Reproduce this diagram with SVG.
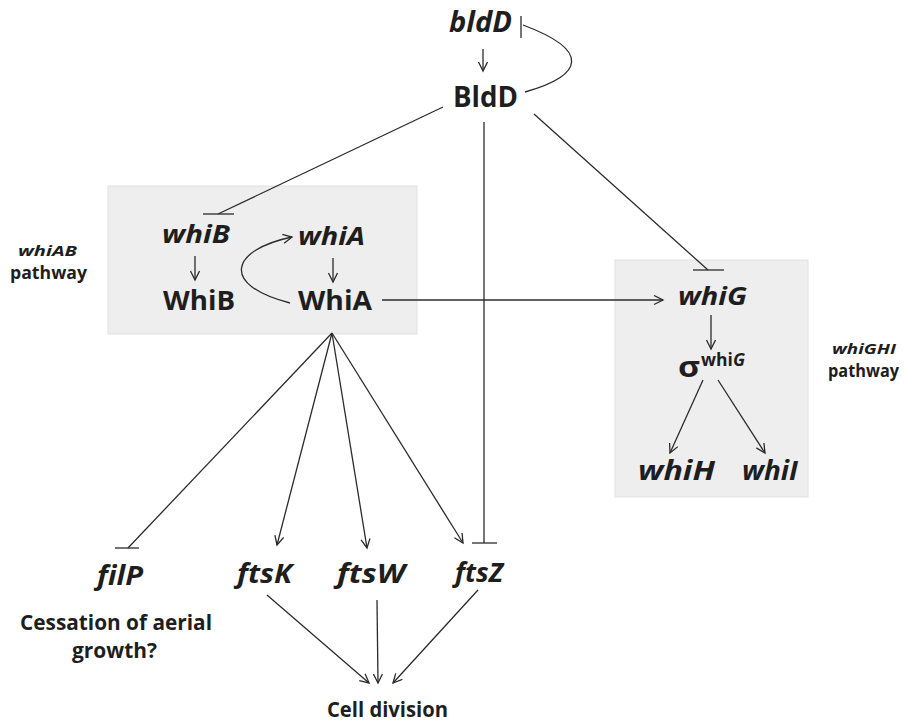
<svg xmlns="http://www.w3.org/2000/svg" width="904" height="725" viewBox="0 0 904 725">
  <defs>
    <marker id="arrow" markerUnits="userSpaceOnUse" markerWidth="14" markerHeight="14" refX="10" refY="5" orient="auto">
      <path d="M1,0.5 L10,5 L1,9.5" fill="none" stroke="#2b2b2b" stroke-width="1.3"/>
    </marker>
  </defs>
  <style>
    .box { fill: #eeeeee; stroke: #e2e2e2; stroke-width: 1; }
    .ln { fill: none; stroke: #2b2b2b; stroke-width: 1.3; }
    .arr { marker-end: url(#arrow); }
    text { font-family: "Open Sans", "Liberation Sans", sans-serif; font-weight: bold; fill: #1e1e1e; }
    .gene { font-style: italic; }
  </style>

  <rect width="904" height="725" fill="#ffffff"/>

  <!-- pathway panels -->
  <rect id="panel-whiAB" class="box" x="108" y="186" width="309" height="148"/>
  <rect id="panel-whiGHI" class="box" x="615" y="260" width="193" height="237"/>

  <g id="connectors">
    <!-- bldD autorepression loop -->
    <path class="ln" d="M523,25 C590,50 585,75 525,92"/>
    <line class="ln" x1="521" y1="16" x2="521" y2="38"/>
    <!-- bldD -> BldD -->
    <line class="ln arr" x1="483" y1="49" x2="483" y2="71"/>
    <!-- BldD -| whiB -->
    <line class="ln" x1="443" y1="107" x2="218" y2="214"/>
    <line class="ln" x1="203" y1="214" x2="234" y2="214"/>
    <!-- BldD -| ftsZ -->
    <line class="ln" x1="484" y1="122" x2="484" y2="543"/>
    <line class="ln" x1="472" y1="543" x2="497" y2="543"/>
    <!-- BldD -| whiG -->
    <line class="ln" x1="534" y1="114" x2="708" y2="270"/>
    <line class="ln" x1="693" y1="270" x2="724" y2="270"/>
    <!-- whiB -> WhiB, whiA -> WhiA -->
    <line class="ln arr" x1="195" y1="256" x2="195" y2="280"/>
    <line class="ln arr" x1="333" y1="258" x2="333" y2="282"/>
    <!-- WhiA autoactivation loop -->
    <path class="ln arr" d="M290,303 C220,285 230,250 292,237"/>
    <!-- WhiA -> whiG -->
    <line class="ln arr" x1="382" y1="300" x2="663" y2="300"/>
    <!-- whiG -> sigma, sigma -> whiH / whiI -->
    <line class="ln arr" x1="711" y1="315" x2="711" y2="349"/>
    <line class="ln arr" x1="703" y1="380" x2="670" y2="453"/>
    <line class="ln arr" x1="718" y1="380" x2="765" y2="453"/>
    <!-- WhiA targets -->
    <line class="ln" x1="332" y1="333" x2="128" y2="548"/>
    <line class="ln" x1="115" y1="548" x2="139" y2="548"/>
    <line class="ln arr" x1="332" y1="333" x2="277" y2="545"/>
    <line class="ln arr" x1="332" y1="333" x2="367" y2="548"/>
    <line class="ln arr" x1="332" y1="333" x2="463" y2="543"/>
    <!-- fts genes -> cell division -->
    <line class="ln arr" x1="267" y1="595" x2="369" y2="683"/>
    <line class="ln arr" x1="377" y1="600" x2="378" y2="683"/>
    <line class="ln arr" x1="478" y1="590" x2="393" y2="683"/>
  </g>

  <g id="bldD-gene"><text class="gene" x="449" y="32" font-size="29" textLength="63" lengthAdjust="spacingAndGlyphs">bldD</text></g>
  <g id="BldD"><text x="453" y="107" font-size="29" textLength="65" lengthAdjust="spacingAndGlyphs">BldD</text></g>

  <g id="whiAB-label">
    <text class="gene" x="18" y="256" font-size="15" textLength="59" lengthAdjust="spacingAndGlyphs">whiAB</text>
    <text x="10" y="279" font-size="17" textLength="77" lengthAdjust="spacingAndGlyphs">pathway</text>
  </g>
  <g id="whiB-gene"><text class="gene" x="162" y="243" font-size="25" textLength="68" lengthAdjust="spacingAndGlyphs">whiB</text></g>
  <g id="WhiB"><text x="163" y="310" font-size="26" textLength="72" lengthAdjust="spacingAndGlyphs">WhiB</text></g>
  <g id="whiA-gene"><text class="gene" x="298" y="245" font-size="25" textLength="67" lengthAdjust="spacingAndGlyphs">whiA</text></g>
  <g id="WhiA"><text x="298" y="310" font-size="26" textLength="74" lengthAdjust="spacingAndGlyphs">WhiA</text></g>

  <g id="whiGHI-label">
    <text class="gene" x="832" y="354" font-size="15" textLength="64" lengthAdjust="spacingAndGlyphs">whiGHI</text>
    <text x="828" y="377" font-size="17" textLength="71" lengthAdjust="spacingAndGlyphs">pathway</text>
  </g>
  <g id="whiG-gene"><text class="gene" x="678" y="305" font-size="25" textLength="69" lengthAdjust="spacingAndGlyphs">whiG</text></g>
  <g id="sigma-whiG">
    <text x="678" y="377" font-size="28" textLength="22" lengthAdjust="spacingAndGlyphs">σ</text>
    <text x="701" y="366" font-size="17" textLength="44" lengthAdjust="spacingAndGlyphs">whi<tspan font-style="italic">G</tspan></text>
  </g>
  <g id="whiH-gene"><text class="gene" x="638" y="480" font-size="26" textLength="77" lengthAdjust="spacingAndGlyphs">whiH</text></g>
  <g id="whiI-gene"><text class="gene" x="742" y="480" font-size="26" textLength="56" lengthAdjust="spacingAndGlyphs">whiI</text></g>

  <g id="filP-gene"><text class="gene" x="97" y="585" font-size="26" textLength="46" lengthAdjust="spacingAndGlyphs">filP</text></g>
  <g id="ftsK-gene"><text class="gene" x="237" y="583" font-size="26" textLength="55" lengthAdjust="spacingAndGlyphs">ftsK</text></g>
  <g id="ftsW-gene"><text class="gene" x="337" y="583" font-size="26" textLength="68" lengthAdjust="spacingAndGlyphs">ftsW</text></g>
  <g id="ftsZ-gene"><text class="gene" x="455" y="582" font-size="26" textLength="48" lengthAdjust="spacingAndGlyphs">ftsZ</text></g>

  <g id="aerial-growth">
    <text x="20" y="630" font-size="21" textLength="192" lengthAdjust="spacingAndGlyphs">Cessation of aerial</text>
    <text x="72" y="658" font-size="21" textLength="85" lengthAdjust="spacingAndGlyphs">growth?</text>
  </g>
  <g id="cell-division"><text x="327" y="717" font-size="22" textLength="121" lengthAdjust="spacingAndGlyphs">Cell division</text></g>
</svg>
